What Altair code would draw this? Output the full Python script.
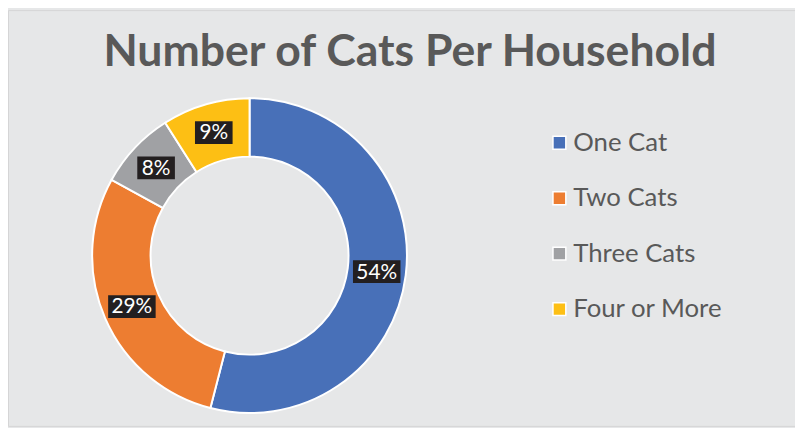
import altair as alt
import pandas as pd

title_text = "Number of Cats Per Household"
categories = ["One Cat", "Two Cats", "Three Cats", "Four or More"]
values = [54, 29, 8, 9]
colors = ["#4870B8", "#ED7D31", "#A0A1A4", "#FDBF14"]

df = pd.DataFrame({
    "category": categories,
    "value": values,
    "idx": list(range(len(categories))),
})

CX, CY = 244, 248
R_OUT, R_IN = 159, 100
R_LAB = (R_OUT + R_IN) / 2

base = alt.Chart(df)

arcs = base.mark_arc(
    outerRadius=R_OUT, innerRadius=R_IN, stroke="white", strokeWidth=2
).encode(
    theta=alt.Theta("value:Q", stack=True),
    order=alt.Order("idx:Q"),
    color=alt.Color(
        "category:N",
        sort=categories,
        scale=alt.Scale(domain=categories, range=colors),
        legend=alt.Legend(
            orient="none", legendX=544, legendY=121, title=None,
            symbolType="square", symbolSize=169, symbolStrokeColor="white",
            symbolStrokeWidth=1.5, symbolOpacity=1,
            labelFontSize=26, labelFont="Lato", labelColor="#595959",
            rowPadding=30, labelOffset=1, padding=0,
        ),
    ),
    x=alt.value(CX),
    y=alt.value(CY),
)

lab_base = base.transform_window(
    cum="sum(value)", sort=[alt.SortField("idx")], frame=[None, 0]
).transform_joinaggregate(
    total="sum(value)"
).transform_calculate(
    mid="(datum.cum - datum.value/2) / datum.total * 2 * PI",
    label="format(datum.value / datum.total, '.0%')",
).transform_calculate(
    px=f"{CX} + {R_LAB} * sin(datum.mid)",
    py=f"{CY} - {R_LAB} * cos(datum.mid)",
    hw="5 * length(datum.label) + 9",
).transform_calculate(
    x1="datum.px - datum.hw",
    x2="datum.px + datum.hw",
    y1="datum.py - 11.5",
    y2="datum.py + 11.5",
)

boxes = lab_base.mark_rect(color="#231F20").encode(
    x=alt.X("x1:Q", scale=None),
    x2="x2:Q",
    y=alt.Y("y1:Q", scale=None),
    y2="y2:Q",
)

labels = lab_base.mark_text(
    font="Lato", fontSize=21, color="white", align="center", baseline="middle", dy=1
).encode(
    x=alt.X("px:Q", scale=None),
    y=alt.Y("py:Q", scale=None),
    text="label:N",
)

title = alt.Chart(pd.DataFrame({"t": [title_text]})).mark_text(
    font="Lato", fontSize=45, fontWeight="bold", color="#595959",
    align="center", baseline="alphabetic",
).encode(
    x=alt.value(406),
    y=alt.value(56),
    text="t:N",
)

chart = alt.layer(arcs, boxes, labels, title).properties(
    width=795, height=420,
    autosize=alt.AutoSizeParams(type="none"),
    padding=0,
    background="#E6E7E8",
).configure_view(stroke="#D4D5D6", strokeWidth=1)

chart.save("out.html", embed_options={"renderer": "svg", "actions": False})
